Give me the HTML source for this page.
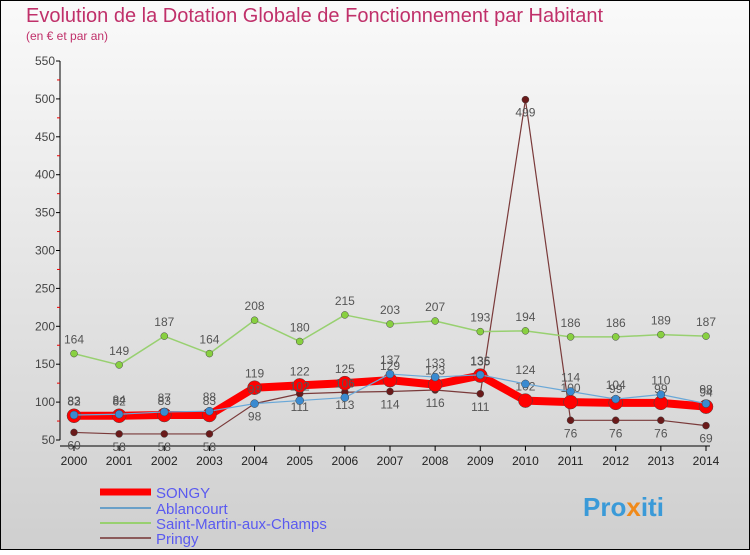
<!DOCTYPE html>
<html><head><meta charset="utf-8"><style>
html,body{margin:0;padding:0}
body{width:750px;height:550px;overflow:hidden;font-family:"Liberation Sans",sans-serif}
</style></head><body>
<svg width="750" height="550" xmlns="http://www.w3.org/2000/svg">
<defs><linearGradient id="bg" x1="0" y1="0" x2="0" y2="1"><stop offset="0" stop-color="#fafafa"/><stop offset="1" stop-color="#cfcfcf"/></linearGradient></defs>
<rect x="0.5" y="0.5" width="749" height="549" fill="url(#bg)" stroke="#000"/>
<text x="26" y="22" font-size="20" fill="#c0306a">Evolution de la Dotation Globale de Fonctionnement par Habitant</text>
<text x="26" y="40" font-size="12" fill="#c0306a">(en € et par an)</text>
<g id="axes"></g><g id="series"></g>
<g>
<line x1="100" y1="492" x2="151" y2="492" stroke="#f00" stroke-width="7"/>
<text x="156" y="498" font-size="15" fill="#5a5af0">SONGY</text>
<line x1="100" y1="508" x2="151" y2="508" stroke="#6aa0c8" stroke-width="2"/>
<text x="156" y="514" font-size="15" fill="#5a5af0">Ablancourt</text>
<line x1="100" y1="523" x2="151" y2="523" stroke="#98d070" stroke-width="2"/>
<text x="156" y="529" font-size="15" fill="#5a5af0">Saint-Martin-aux-Champs</text>
<line x1="100" y1="538" x2="151" y2="538" stroke="#8b5a5a" stroke-width="2"/>
<text x="156" y="544" font-size="15" fill="#5a5af0">Pringy</text>
</g>
<text x="583" y="516" font-size="26" font-weight="bold" fill="#3a9ad8">Pro<tspan fill="#f08a1a">x</tspan>iti</text>
</svg>
<script>
const years=[2000,2001,2002,2003,2004,2005,2006,2007,2008,2009,2010,2011,2012,2013,2014];
const yTicks=[50,100,150,200,250,300,350,400,450,500,550];
const songy=[82,82,83,83,119,122,125,129,123,135,102,100,99,99,94];
const ablancourt=[83,84,87,88,98,102,106,137,133,136,124,114,104,110,98];
const saintMartin=[164,149,187,164,208,180,215,203,207,193,194,186,186,189,187];
const pringy=[60,58,58,58,98,111,113,114,116,111,499,76,76,76,69];
const NS="http://www.w3.org/2000/svg";
const X=i=>74+i*(632/14);
const Y=v=>440-(v-50)*(379/500);
function mk(t,a,p){const e=document.createElementNS(NS,t);for(const k in a)e.setAttribute(k,a[k]);p.appendChild(e);return e;}
const ax=document.getElementById('axes');
const yl=mk('line',{x1:60,y1:Y(550),x2:60,y2:440,stroke:'#000'},ax);


const xl=mk('line',{x1:60,y1:446,x2:710,y2:446,stroke:'#000'},ax);


yTicks.forEach(v=>{
  mk('line',{x1:56,y1:Y(v),x2:60,y2:Y(v),stroke:'#000'},ax);
  if(v<550) mk('line',{x1:57,y1:Y(v+25),x2:60,y2:Y(v+25),stroke:'#e00'},ax);
  const t=mk('text',{x:55,y:Y(v)+4,'font-size':12,fill:'#444','text-anchor':'end'},ax);t.textContent=v;
  
  
});
years.forEach((y,i)=>{
  mk('line',{x1:X(i),y1:446,x2:X(i),y2:451,stroke:'#000'},ax);
  const t=mk('text',{x:X(i),y:465,'font-size':12,fill:'#222','text-anchor':'middle'},ax);t.textContent=y;
  
  
});
const sg=document.getElementById('series');
function series(vals,name,color,w,r,dot,labelAbove){
  const g=mk('g',{},sg);
  
  
  const p=mk('polyline',{points:vals.map((v,i)=>X(i)+','+Y(v)).join(' '),fill:'none',stroke:color,'stroke-width':w,'stroke-linejoin':'round'},g);
  
  
  vals.forEach((v,i)=>{
    const c=mk('circle',{cx:X(i),cy:Y(v),r:r,fill:dot,stroke:'#444','stroke-width':0.5},g);
    
    
    const t=mk('text',{x:X(i),y:labelAbove?Y(v)-10:Y(v)+17,'font-size':12,fill:'#555','text-anchor':'middle'},g);t.textContent=v;
    
    
  });
}
series(pringy,'pringy','#7a3a3a',1.2,3.5,'#6a1a1a',false);
series(saintMartin,'saint-martin','#98d070',1.5,3.5,'#88d040',true);
series(songy,'songy','#f00',8,7,'#f00',true);
series(ablancourt,'ablancourt','#6aa8d8',1.2,4,'#3a8ad0',true);
</script>
</body></html>
